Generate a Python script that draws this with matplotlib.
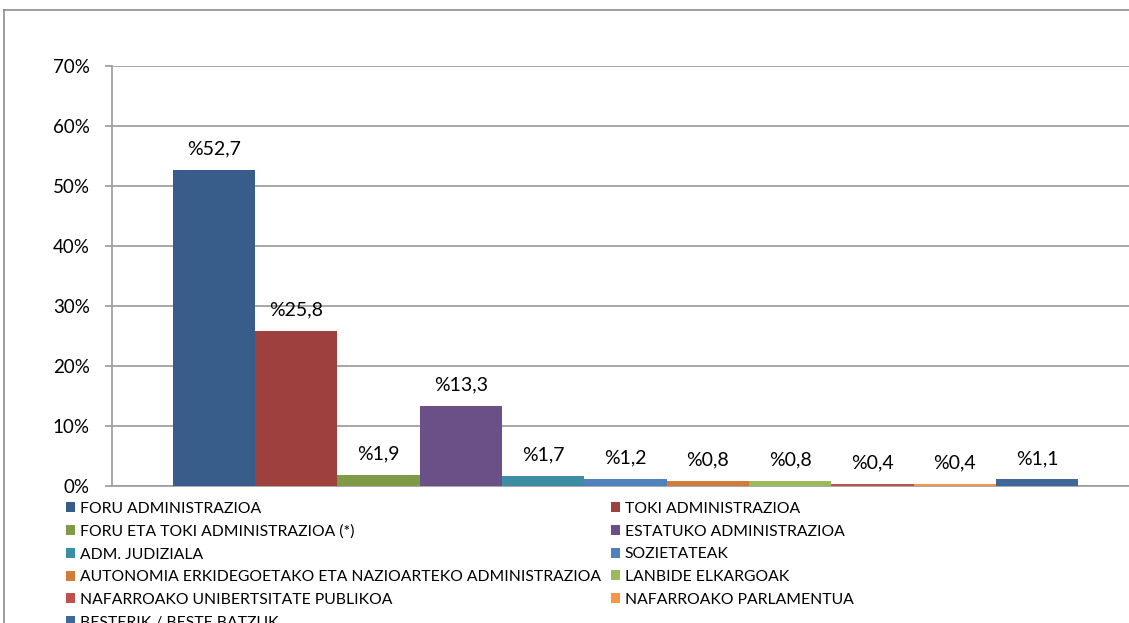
import matplotlib
matplotlib.use("Agg")
import matplotlib.pyplot as plt
from matplotlib.lines import Line2D
from matplotlib.patches import Patch

plt.rcParams['font.family'] = ['Lato', 'DejaVu Sans']

series = [
    "FORU ADMINISTRAZIOA",
    "TOKI ADMINISTRAZIOA",
    "FORU ETA TOKI ADMINISTRAZIOA (*)",
    "ESTATUKO ADMINISTRAZIOA",
    "ADM. JUDIZIALA",
    "SOZIETATEAK",
    "AUTONOMIA ERKIDEGOETAKO ETA NAZIOARTEKO ADMINISTRAZIOA",
    "LANBIDE ELKARGOAK",
    "NAFARROAKO UNIBERTSITATE PUBLIKOA",
    "NAFARROAKO PARLAMENTUA",
    "BESTERIK / BESTE BATZUK",
]
values = [52.7, 25.8, 1.9, 13.3, 1.7, 1.2, 0.8, 0.8, 0.4, 0.4, 1.1]
colors = ["#385D8A", "#9E413E", "#7F9B48", "#6A5087", "#3D8DA4", "#4F81BD",
          "#D07D3A", "#9BBB59", "#C0504D", "#F79646", "#3F679A"]
yticks = [0, 10, 20, 30, 40, 50, 60, 70]

W, H = 1129, 623
fig = plt.figure(figsize=(W / 100, H / 100), dpi=100)

# outer chart frame (cropped on right/bottom)
fig.add_artist(Line2D([3.5 / W, 3.5 / W], [0, 1 - 10 / H], transform=fig.transFigure,
                      color="#8C8C8C", lw=1.2))
fig.add_artist(Line2D([3.5 / W, 1.0], [1 - 10 / H, 1 - 10 / H], transform=fig.transFigure,
                      color="#8C8C8C", lw=1.2))

ax_left, ax_right = 112, 1139
ax_top, ax_bot = 66, 486
ax = fig.add_axes([ax_left / W, (H - ax_bot) / H, (ax_right - ax_left) / W, (ax_bot - ax_top) / H])

n = len(values)
positions = [i - (n - 1) / 2 for i in range(n)]
for p, v, c, lab in zip(positions, values, colors, series):
    ax.bar(p, v, width=1.0, color=c, label=lab, zorder=3)
    ax.annotate(f"%{v:.1f}".replace(".", ","), (p, v), xytext=(0, 9),
                textcoords="offset points", ha="center", va="bottom", fontsize=14)

ax.set_xlim(-6.24, 6.24)
ax.set_ylim(0, 70)
ax.set_yticks(yticks)
ax.set_yticklabels([f"{t}%" for t in yticks], fontsize=13.5)
ax.set_xticks([])
ax.grid(axis="y", color="#A0A0A0", lw=1.3, zorder=0)
for s in ["top", "right"]:
    ax.spines[s].set_visible(False)
for s in ["left", "bottom"]:
    ax.spines[s].set_color("#A0A0A0")
    ax.spines[s].set_linewidth(1.3)
ax.tick_params(axis="y", length=5, width=1.3, color="#A0A0A0", pad=11)

order = [0, 2, 4, 6, 8, 10, 1, 3, 5, 7, 9]
handles = [Patch(facecolor=colors[i], edgecolor="none") for i in order]
labels = [series[i] for i in order]
fig.legend(handles, labels, ncol=2, loc="upper left",
           bbox_to_anchor=(66 / W, 1 - 502 / H), frameon=False, fontsize=11.3,
           handlelength=0.6, handleheight=0.6, handletextpad=0.3,
           columnspacing=0.6, labelspacing=0.55, borderpad=0, borderaxespad=0)

fig.savefig("out.png", dpi=100)
